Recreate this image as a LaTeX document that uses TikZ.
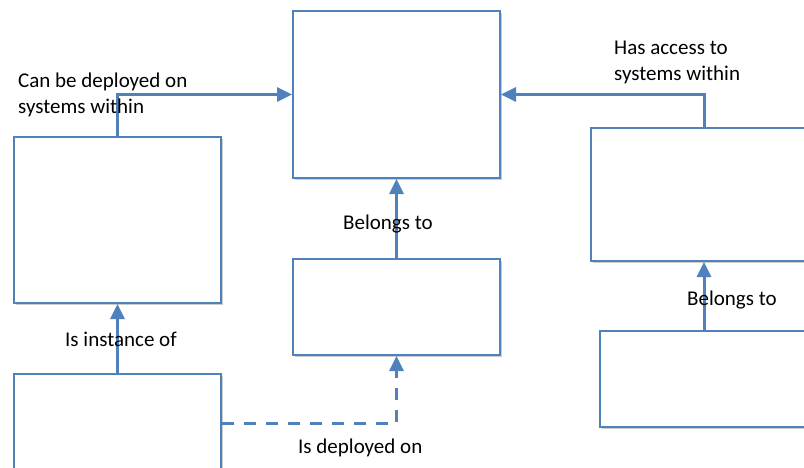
\documentclass[tikz,border=0pt]{standalone}
\usepackage{fontspec}
\setmainfont{Carlito}
\usetikzlibrary{arrows.meta,shadows}
\definecolor{boxblue}{RGB}{79,129,189}
\begin{document}
\begin{tikzpicture}[x=1pt, y=-1pt,
    box/.style={draw=boxblue, line width=2pt, fill=white, anchor=north west, inner sep=0pt,
      drop shadow={shadow xshift=1.5pt, shadow yshift=-1.5pt, opacity=.2, fill=black}},
    link/.style={draw=boxblue, line width=3pt, -{Triangle[length=15pt,width=14pt]}},
    dlink/.style={link, dash pattern=on 12pt off 10pt},
    lbl/.style={inner sep=0pt, font=\fontsize{21}{26}\selectfont}]
  \clip (0,0) rectangle (804,467);
  % boxes
  \node[box, minimum width=207pt, minimum height=167pt] (system) at (292,10) {};
  \node[box, minimum width=207pt, minimum height=166pt] (application) at (13,136) {};
  \node[box, minimum width=207pt, minimum height=98pt] (instance) at (13,373) {};
  \node[box, minimum width=207pt, minimum height=96pt] (host) at (292,258) {};
  \node[box, minimum width=226pt, minimum height=133pt] (group) at (590,127) {};
  \node[box, minimum width=208pt, minimum height=96pt] (user) at (599,330) {};
  % connectors
  \draw[link] (application.north) |- (system.west);
  \draw[link] (group.north) |- (system.east);
  \draw[link] (host.north) -- (system.south);
  \draw[link] (user.north) -- (group.south);
  \draw[link] (instance.north) -- (application.south);
  \draw[dlink] (instance.east) -| (host.south);
  % labels
  \node[lbl, align=left, anchor=north west] (deploylbl) at (18,73) {Can be deployed on\\systems within};
  \node[lbl, align=left, anchor=north west] (accesslbl) at (614,41) {Has access to\\systems within};
  \node[lbl, anchor=base west] (hostlbl) at (343,229) {Belongs to};
  \node[lbl, anchor=base west] (userlbl) at (687,305) {Belongs to};
  \node[lbl, anchor=base west] (instlbl) at (65,346) {Is instance of};
  \node[lbl, anchor=base west] (onlbl) at (298,453) {Is deployed on};
\end{tikzpicture}
\end{document}
